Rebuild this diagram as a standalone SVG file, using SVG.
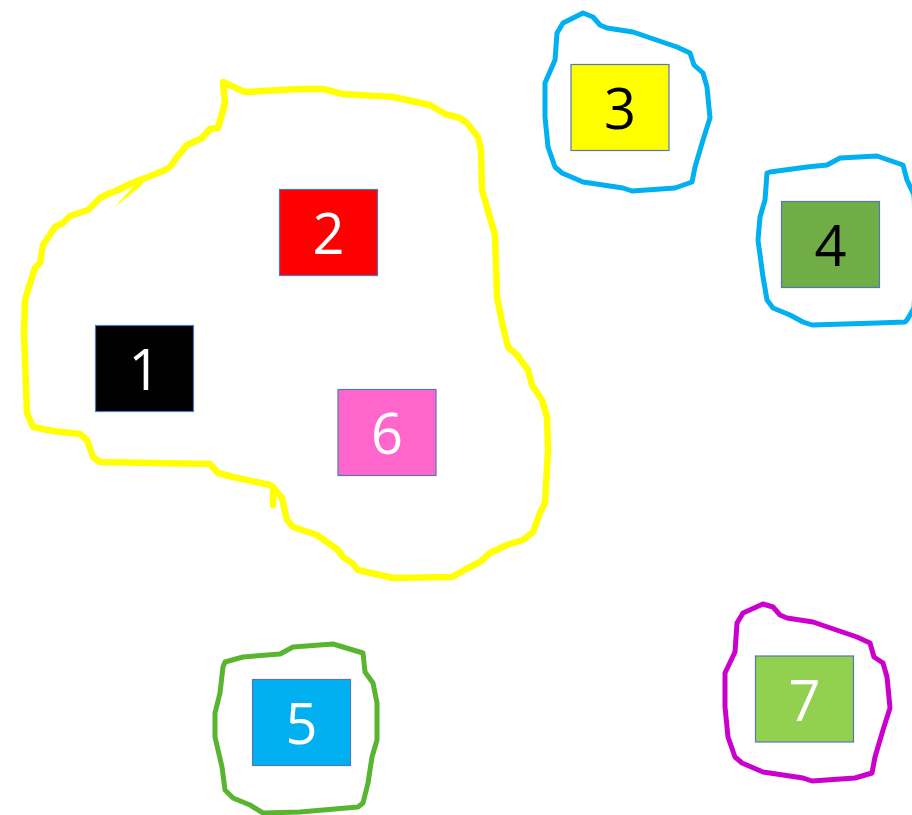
<svg xmlns="http://www.w3.org/2000/svg" width="912" height="815" viewBox="0 0 912 815">
<style>
.loop{fill:none;stroke-linejoin:round;stroke-linecap:round}
.y{stroke:#FFFF00;stroke-width:6.5}
.b{stroke:#00B0F0;stroke-width:5}
.g{stroke:#58B530;stroke-width:5}
.m{stroke:#CC00CC;stroke-width:5}
.box{stroke:#5576B8;stroke-width:1.2}
.t{font-family:"Open Sans","Noto Sans",sans-serif;font-size:56px;text-anchor:middle}
.w{fill:#FFFFFF}
.k{fill:#000000}
</style>
<rect width="912" height="815" fill="#FFFFFF"/>
<g id="loops">
<path class="loop y" d="M223,82 L245,92 L300,89 L323,89 L343,94 L393,97 L430,105 L445,114 L460,118 L467,123 L478,137 L481,150 L482,190 L495,235 L497,297 L503,327 L508,347 L517,355 L528,370 L532,385 L542,400 L547,417 L548,450 L545,503 L540,513 L533,532 L523,540 L507,545 L490,553 L480,562 L468,568 L452,577 L393,578 L358,570 L352,563 L343,557 L338,550 L317,535 L293,527 L287,520 L282,498 L273,487 L273,505 L273,487 L270,485 L233,477 L218,473 L210,464 L100,462 L93,457 L87,440 L80,434 L53,431 L33,427 L27,413 L24,333 L25,300 L28,290 L35,268 L40,263 L43,245 L55,227 L63,223 L70,216 L88,210 L100,198 L110,193 L116,191 L130,184 L140,180 L148,177 L163,171 L170,167 L177,157 L187,145 L202,138 L210,129 L218,128 L225,103 Z"/>
<polygon points="115,207 136,183 146,178 141,186" fill="#FFFF00"/>
<path class="loop b" d="M583,13 L593,17 L600,25 L607,28 L633,32 L677,47 L690,53 L694,65 L703,73 L707,87 L710,118 L703,140 L695,167 L692,182 L675,188 L632,191 L623,188 L583,182 L562,173 L555,167 L548,147 L545,117 L545,83 L555,60 L557,33 L563,23 Z"/>
<path class="loop b" d="M770,172 L807,167 L827,165 L840,158 L877,156 L903,165 L907,180 L914,195 L917,255 L914,308 L907,320 L905,322 L877,323 L812,325 L803,322 L790,315 L773,308 L767,300 L763,277 L758,240 L760,217 L765,200 L767,173 Z"/>
<path class="loop g" d="M225,662 L243,657 L280,654 L293,647 L333,644 L363,653 L365,672 L373,683 L377,703 L377,740 L372,757 L368,783 L363,803 L358,807 L300,812 L263,813 L250,805 L233,798 L225,790 L222,767 L215,737 L215,713 L220,693 L223,667 Z"/>
<path class="loop m" d="M763,604 L773,607 L780,615 L787,618 L813,622 L857,637 L870,643 L874,657 L883,663 L887,677 L890,708 L883,730 L875,757 L872,773 L855,778 L812,781 L803,778 L763,772 L742,763 L735,757 L728,737 L725,707 L725,673 L735,652 L737,623 L743,613 Z"/>
</g>
<g id="n1"><rect class="box" x="95.5" y="325.5" width="98" height="86" fill="#000000"/><text class="t w" x="144.5" y="390">1</text></g>
<g id="n2"><rect class="box" x="279.5" y="189.5" width="98" height="86" fill="#FF0000"/><text class="t w" x="328.5" y="254">2</text></g>
<g id="n3"><rect class="box" x="571" y="64.5" width="98" height="86" fill="#FFFF00"/><text class="t k" x="620" y="129">3</text></g>
<g id="n4"><rect class="box" x="781.5" y="201.5" width="98" height="86" fill="#70AD47"/><text class="t k" x="830.5" y="266">4</text></g>
<g id="n5"><rect class="box" x="252.5" y="679.5" width="98" height="86" fill="#00B0F0"/><text class="t w" x="301.5" y="744">5</text></g>
<g id="n6"><rect class="box" x="338" y="389.5" width="98" height="86" fill="#FF66CC"/><text class="t w" x="387" y="454">6</text></g>
<g id="n7"><rect class="box" x="755.5" y="656" width="98" height="86" fill="#92D050"/><text class="t w" x="804.5" y="720.5">7</text></g>
</svg>
